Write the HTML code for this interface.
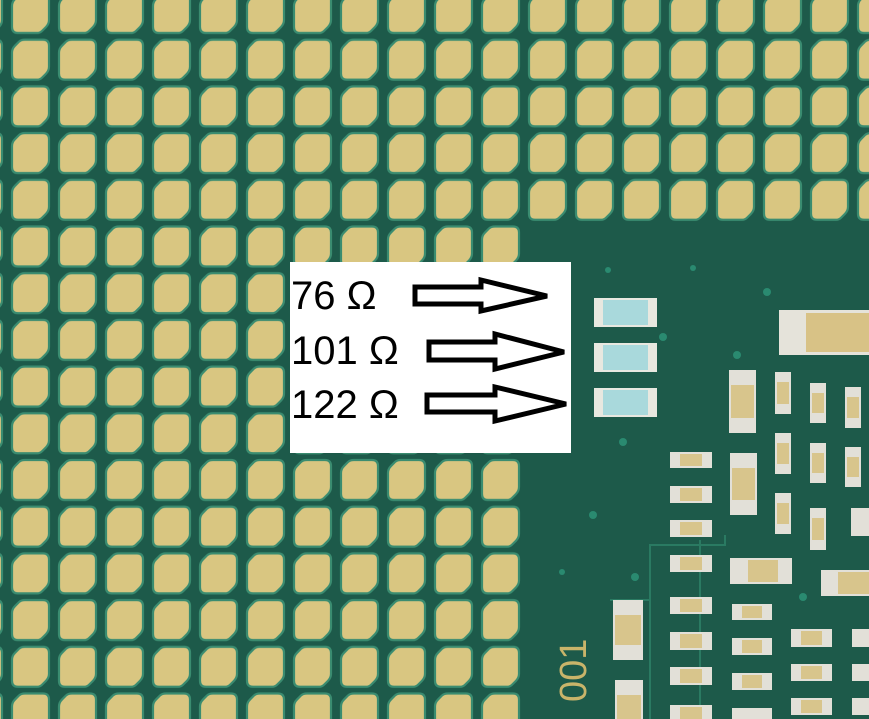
<!DOCTYPE html>
<html><head><meta charset="utf-8"><style>
html,body{margin:0;padding:0;background:#1d5a4a;}
svg{display:block}
</style></head><body>
<svg width="869" height="719" viewBox="0 0 869 719" xmlns="http://www.w3.org/2000/svg">
<defs>
<pattern id="pads" x="-37" y="-9" width="47" height="46.7" patternUnits="userSpaceOnUse">
<path d="M15 2 H33 Q39 2 39 8 V29 Q39 33 36 36 L32 40 Q30 42 27 42 H8 Q2 42 2 36 V15 Q2 11 5 8 L9 4 Q11 2 15 2 Z" fill="#d9c681" stroke="#3a8c70" stroke-width="2.2"/>
</pattern>
</defs>
<rect width="869" height="719" fill="#1d5a4a"/>
<rect x="0" y="0" width="869" height="222" fill="url(#pads)"/>
<rect x="0" y="222" width="524" height="497" fill="url(#pads)"/>
<g fill="#2a8a70">
<circle cx="767" cy="292" r="4"/><circle cx="663" cy="337" r="4"/><circle cx="623" cy="442" r="4"/><circle cx="593" cy="515" r="4"/><circle cx="635" cy="577" r="4"/><circle cx="803" cy="597" r="4"/><circle cx="737" cy="355" r="4"/><circle cx="693" cy="268" r="3"/><circle cx="608" cy="270" r="3"/><circle cx="562" cy="572" r="3"/>
</g>
<g fill="none" stroke="#2a7a62" stroke-width="2">
<path d="M650 719 V545 H725 V535"/><path d="M610 600 H650"/><path d="M700 719 V540"/>
</g>
<text x="0" y="0" transform="translate(586,702) rotate(-90)" font-family="Liberation Sans, sans-serif" font-size="38" fill="#c9b46a">001</text>
<g>
<g><rect x="594" y="298" width="63" height="29" fill="#e8e8e0"/><rect x="603" y="300" width="45" height="25" fill="#a9d9dc"/></g>
<g><rect x="594" y="343" width="63" height="29" fill="#e8e8e0"/><rect x="603" y="345" width="45" height="25" fill="#a9d9dc"/></g>
<g><rect x="594" y="388" width="63" height="29" fill="#e8e8e0"/><rect x="603" y="390" width="45" height="25" fill="#a9d9dc"/></g>
<rect x="779" y="310" width="90" height="45" fill="#e5e3da"/><rect x="806" y="313" width="63" height="39" fill="#d8c286"/>
</g>
<g fill="#e2e0d8">
<rect x="729" y="370" width="27" height="63"/><rect x="730" y="453" width="27" height="62"/>
<rect x="775" y="372" width="16" height="42"/><rect x="810" y="383" width="16" height="40"/><rect x="845" y="387" width="16" height="41"/>
<rect x="775" y="433" width="16" height="41"/><rect x="810" y="443" width="16" height="40"/><rect x="845" y="447" width="16" height="40"/>
<rect x="775" y="493" width="16" height="41"/><rect x="810" y="508" width="16" height="42"/><rect x="851" y="508" width="18" height="28"/>
<rect x="670" y="452" width="42" height="16"/><rect x="670" y="486" width="42" height="17"/><rect x="670" y="520" width="42" height="17"/>
<rect x="670" y="555" width="42" height="17"/><rect x="670" y="597" width="42" height="17"/><rect x="670" y="632" width="42" height="18"/>
<rect x="670" y="667" width="42" height="18"/><rect x="670" y="705" width="42" height="14"/>
<rect x="730" y="558" width="62" height="26"/><rect x="821" y="570" width="48" height="26"/>
<rect x="732" y="604" width="40" height="16"/><rect x="732" y="638" width="40" height="17"/><rect x="732" y="673" width="40" height="17"/><rect x="732" y="708" width="40" height="11"/>
<rect x="791" y="629" width="41" height="18"/><rect x="791" y="664" width="41" height="17"/><rect x="791" y="698" width="41" height="17"/>
<rect x="852" y="629" width="17" height="18"/><rect x="852" y="664" width="17" height="17"/><rect x="852" y="698" width="17" height="17"/>
<rect x="613" y="600" width="30" height="60"/><rect x="615" y="680" width="28" height="39"/>
</g>
<g fill="#d8c58c">
<rect x="731" y="385" width="23" height="33"/><rect x="732" y="468" width="23" height="32"/>
<rect x="777" y="382" width="12" height="22"/><rect x="812" y="393" width="12" height="20"/><rect x="847" y="397" width="12" height="21"/>
<rect x="777" y="443" width="12" height="21"/><rect x="812" y="453" width="12" height="20"/><rect x="847" y="457" width="12" height="20"/>
<rect x="777" y="503" width="12" height="21"/><rect x="812" y="518" width="12" height="22"/>
<rect x="680" y="454" width="22" height="12"/><rect x="680" y="488" width="22" height="13"/><rect x="680" y="522" width="22" height="13"/>
<rect x="680" y="557" width="22" height="13"/><rect x="680" y="599" width="22" height="13"/><rect x="680" y="634" width="22" height="14"/>
<rect x="680" y="669" width="22" height="14"/><rect x="680" y="707" width="22" height="12"/>
<rect x="748" y="560" width="30" height="22"/><rect x="838" y="572" width="31" height="22"/>
<rect x="742" y="606" width="20" height="12"/><rect x="742" y="640" width="20" height="13"/><rect x="742" y="675" width="20" height="13"/>
<rect x="801" y="631" width="21" height="14"/><rect x="801" y="666" width="21" height="13"/><rect x="801" y="700" width="21" height="13"/>
<rect x="615" y="615" width="26" height="30"/><rect x="617" y="695" width="24" height="24"/>
</g>
<rect x="290" y="262" width="281" height="191" fill="#ffffff"/>
<g font-family="Liberation Sans, sans-serif" font-size="40" fill="#000">
<text x="291" y="309">76 Ω</text>
<text x="291" y="364">101 Ω</text>
<text x="291" y="418">122 Ω</text>
</g>
<g fill="#fff" stroke="#000" stroke-width="5" stroke-linejoin="miter">
<path d="M415 287 H481 V280 L547 296 L481 311 V304 H415 Z"/>
<path d="M429 342 H495 V334 L564 352 L495 369 V360 H429 Z"/>
<path d="M427 395 H495 V387 L566 404 L495 421 V412 H427 Z"/>
</g>
</svg>
</body></html>
